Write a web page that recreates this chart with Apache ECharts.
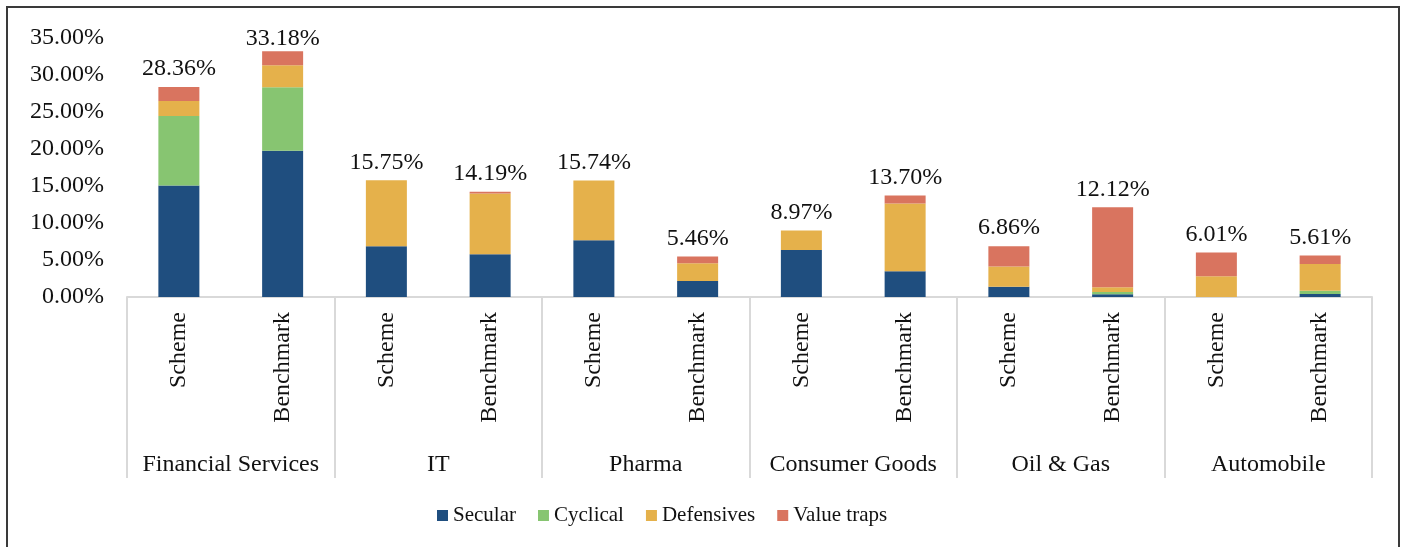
<!DOCTYPE html>
<html>
<head>
<meta charset="utf-8">
<script src="https://cdn.jsdelivr.net/npm/echarts@6/dist/echarts.min.js"></script>
<style>
html, body { margin: 0; padding: 0; background: #fff; }
#chart { width: 1403px; height: 547px; }
</style>
</head>
<body>
<div id="chart"></div>
<script>
var groups = ['Financial Services', 'IT', 'Pharma', 'Consumer Goods', 'Oil & Gas', 'Automobile'];
var bars = ['Scheme', 'Benchmark', 'Scheme', 'Benchmark', 'Scheme', 'Benchmark',
	'Scheme', 'Benchmark', 'Scheme', 'Benchmark', 'Scheme', 'Benchmark'];

var secular = [15.05, 19.73, 6.85, 5.77, 7.66, 2.16, 6.35, 3.47, 1.40, 0.36, 0, 0.40];
var cyclical = [9.37, 8.57, 0, 0, 0, 0, 0, 0, 0, 0.32, 0, 0.45];
var defensives = [2.03, 2.97, 8.90, 8.20, 8.08, 2.39, 2.62, 9.15, 2.70, 0.63, 2.80, 3.61];
var valueTraps = [1.91, 1.91, 0, 0.22, 0, 0.91, 0, 1.08, 2.76, 10.81, 3.21, 1.15];
var totals = [28.36, 33.18, 15.75, 14.19, 15.74, 5.46, 8.97, 13.70, 6.86, 12.12, 6.01, 5.61];

var colors = ['#1F4E7F', '#87C571', '#E5B14B', '#D9745F'];
var font = 'Liberation Serif';
var yMax = 35;

var chart = echarts.init(document.getElementById('chart'));

function part(name, data, i){
	return {
		name: name,
		type: 'bar',
		stack: 'all',
		barWidth: 41,
		data: data,
		itemStyle: { color: colors[i] }
	};
}

// labels near the top of the plot get pulled down a bit, like Excel does
var totalData = totals.map(function(v){
	var d = { value: v };
	if(v > yMax - 3){
		d.label = { distance: 0 };
	}
	return d;
});

var option = {
	animation: false,
	textStyle: { fontFamily: font, color: '#111' },
	graphic: [{
		type: 'rect',
		shape: { x: 7, y: 7, width: 1392, height: 600 },
		style: { fill: 'none', stroke: '#3a3a3a', lineWidth: 2 },
		silent: true
	}],
	legend: {
		data: ['Secular', 'Cyclical', 'Defensives', 'Value traps'],
		left: 432,
		top: 500,
		itemWidth: 11,
		itemHeight: 11,
		itemGap: 22,
		icon: 'rect',
		textStyle: { fontFamily: font, fontSize: 21, color: '#111' }
	},
	grid: { left: 127, right: 31, top: 37.7, bottom: 250, containLabel: false },
	xAxis: [{
		type: 'category',
		data: bars,
		axisLine: { lineStyle: { color: '#d9d9d9', width: 2 } },
		axisTick: { show: false },
		axisLabel: {
			rotate: 90,
			margin: 15,
			interval: 0,
			fontFamily: font,
			fontSize: 24,
			color: '#111'
		}
	}, {
		type: 'category',
		position: 'bottom',
		data: groups,
		axisLine: { show: false },
		axisTick: { show: true, length: 181, lineStyle: { color: '#d9d9d9', width: 2 } },
		axisLabel: {
			margin: 156,
			interval: 0,
			fontFamily: font,
			fontSize: 24,
			color: '#111'
		}
	}],
	yAxis: {
		type: 'value',
		min: 0,
		max: yMax,
		interval: 5,
		splitLine: { show: false },
		axisLine: { show: false },
		axisTick: { show: false },
		axisLabel: {
			margin: 23,
			fontFamily: font,
			fontSize: 24,
			color: '#111',
			formatter: function(v){ return v.toFixed(2) + '%'; }
		}
	},
	series: [
		part('Secular', secular, 0),
		part('Cyclical', cyclical, 1),
		part('Defensives', defensives, 2),
		part('Value traps', valueTraps, 3),
		{
			name: 'Total',
			type: 'bar',
			barWidth: 41,
			barGap: '-100%',
			z: 1,
			silent: true,
			data: totalData,
			itemStyle: { color: 'rgba(0,0,0,0)' },
			label: {
				show: true,
				position: 'top',
				distance: 6,
				fontFamily: font,
				fontSize: 24,
				color: '#111',
				formatter: function(p){ return p.value.toFixed(2) + '%'; }
			}
		}
	]
};
chart.setOption(option);
</script>
</body>
</html>
